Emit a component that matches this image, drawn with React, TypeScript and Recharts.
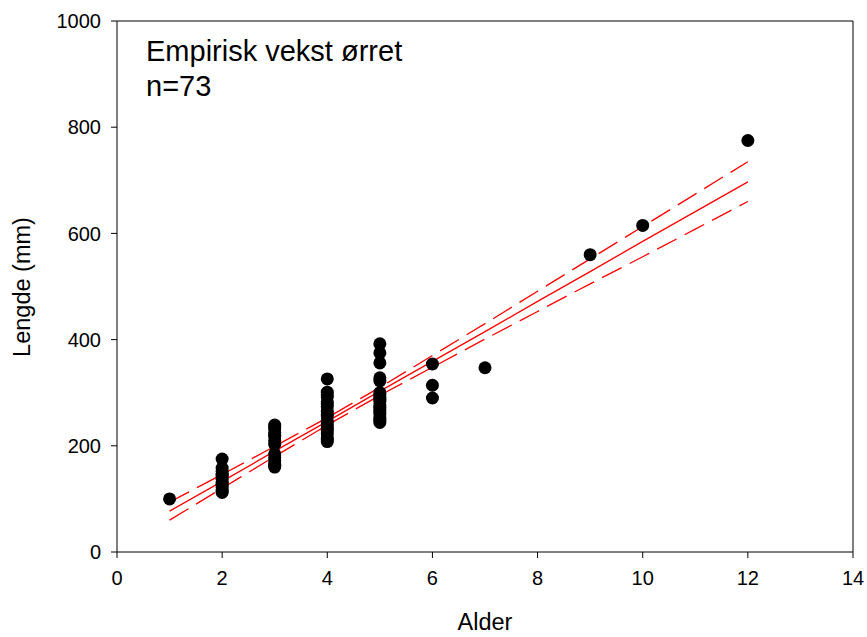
import React from 'react';
import { ComposedChart, Scatter, Line, XAxis, YAxis, ReferenceLine } from 'recharts';

// lengths (mm) read per age
const age1 = [100];
const age2 = [175, 158, 152, 147, 145, 142, 137, 132, 130, 127, 122, 117, 115, 112];
const age3 = [239, 236, 232, 225, 221, 218, 210, 203, 185, 178, 172, 166, 163, 160];
const age4 = [326, 301, 296, 292, 283, 279, 274, 265, 260, 256, 247, 243, 238, 233, 229, 222, 215, 212, 208];
const age5 = [392, 375, 356, 328, 322, 300, 296, 292, 288, 284, 276, 272, 268, 264, 260, 252, 248, 244];
const age6 = [354, 314, 290];
const age7 = [347];
const age9 = [560];
const age10 = [615];
const age12 = [775];

// regression line and confidence band
const fitAges = [1, 2, 3, 4, 5, 6, 7, 8, 9, 10, 11, 12];
const fitValues = [77, 133, 190, 246, 303, 359, 415, 472, 528, 585, 641, 697];
const upperValues = [94, 146, 199, 253, 310, 370, 430, 491, 552, 613, 674, 735];
const lowerValues = [60, 120, 180, 239, 295, 348, 401, 453, 505, 556, 608, 660];

const xTicks = [0, 2, 4, 6, 8, 10, 12, 14];
const yTicks = [0, 200, 400, 600, 800, 1000];

const groups: [number, number[]][] = [
  [1, age1], [2, age2], [3, age3], [4, age4], [5, age5],
  [6, age6], [7, age7], [9, age9], [10, age10], [12, age12],
];
const points = groups.flatMap(([x, ys]) => ys.map(y => ({ x, y })));
const fitData = fitAges.map((x, i) => ({ x, fit: fitValues[i], upper: upperValues[i], lower: lowerValues[i] }));

const font = '"Liberation Sans", Arial, sans-serif';

const Dot = (props: any) => <circle cx={props.cx} cy={props.cy} r={6.5} fill="#000" />;

export default function App() {
  return (
    <div style={{ position: 'absolute', left: 0, top: 0, width: 867, height: 637, background: '#fff', fontFamily: font }}>
      <ComposedChart width={867} height={637} margin={{ top: 21, right: 14, bottom: 25, left: 0 }}>
        <XAxis
          type="number"
          dataKey="x"
          domain={[0, 14]}
          ticks={xTicks}
          stroke="#000"
          tickSize={6}
          tickMargin={13}
          height={60}
          tick={{ fill: '#000', fontSize: 20, fontFamily: font }}
        />
        <YAxis
          type="number"
          domain={[0, 1000]}
          ticks={yTicks}
          stroke="#000"
          tickSize={6}
          tickMargin={10}
          width={117}
          tick={{ fill: '#000', fontSize: 20, fontFamily: font }}
        />
        <ReferenceLine y={1000} stroke="#000" />
        <ReferenceLine x={14} stroke="#000" />
        <Line data={fitData} dataKey="upper" type="linear" stroke="#ff0000" strokeWidth={1.3} strokeDasharray="22 9" dot={false} isAnimationActive={false} />
        <Line data={fitData} dataKey="fit" type="linear" stroke="#ff0000" strokeWidth={1.3} dot={false} isAnimationActive={false} />
        <Line data={fitData} dataKey="lower" type="linear" stroke="#ff0000" strokeWidth={1.3} strokeDasharray="22 9" dot={false} isAnimationActive={false} />
        <Scatter data={points} dataKey="y" shape={Dot} isAnimationActive={false} />
      </ComposedChart>
      <div style={{ position: 'absolute', left: 146, top: 34, fontSize: 29, lineHeight: '35px', color: '#000' }}>
        Empirisk vekst ørret<br />n=73
      </div>
      <div style={{ position: 'absolute', left: 117, width: 736, top: 609, textAlign: 'center', fontSize: 23.5, lineHeight: '26px' }}>
        Alder
      </div>
      <div style={{ position: 'absolute', left: 22, top: 287, width: 0, height: 0 }}>
        <div style={{ position: 'absolute', left: -100, top: -13, width: 200, textAlign: 'center', fontSize: 23.5, lineHeight: '26px', transform: 'rotate(-90deg)' }}>
          Lengde (mm)
        </div>
      </div>
    </div>
  );
}
